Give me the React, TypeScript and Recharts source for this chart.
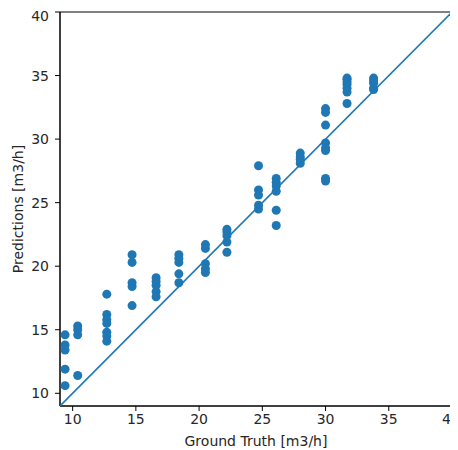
import React from 'react';
import {
  ScatterChart,
  Scatter,
  XAxis,
  YAxis,
  ReferenceArea,
} from 'recharts';

type Pt = { x: number, y: number };

// ground truth levels and the predictions made at each level
const truthLevels = [9.4, 10.4, 12.7, 14.7, 16.6, 18.4, 20.5, 22.2, 24.7, 26.1, 28.0, 30.0, 31.7, 33.8];
const predictions = [
  [14.6, 13.8, 13.4, 11.9, 10.6],
  [15.3, 15.0, 14.6, 11.4],
  [17.8, 16.2, 15.8, 15.5, 14.8, 14.5, 14.1],
  [20.9, 20.3, 18.7, 18.4, 16.9],
  [19.1, 18.8, 18.5, 18.0, 17.6],
  [20.9, 20.6, 20.3, 19.4, 18.7],
  [21.7, 21.4, 20.2, 19.8, 19.5],
  [22.9, 22.7, 22.4, 21.9, 21.1],
  [27.9, 26.0, 25.6, 24.8, 24.5],
  [26.9, 26.6, 26.3, 25.9, 24.4, 23.2],
  [28.9, 28.6, 28.4, 28.1],
  [32.4, 32.1, 31.1, 29.7, 29.3, 29.1, 26.9, 26.7],
  [34.8, 34.7, 34.5, 34.3, 34.0, 33.7, 32.8],
  [34.8, 34.6, 34.4, 34.0, 33.9],
];
const identity = [9, 40];
const ticks = [10, 15, 20, 25, 30, 35, 40];

const points: Pt[] = truthLevels.flatMap((gt, i) => predictions[i].map((p) => ({ x: gt, y: p })));
const lineData: Pt[] = identity.map((v) => ({ x: v, y: v }));

const BLUE = '#1f77b4';
const font = 'DejaVu Sans, sans-serif';
const tickStyle = { fontSize: 14, fill: '#262626', fontFamily: font };

const Dot = (props: any) => <circle cx={props.cx} cy={props.cy} r={4.5} fill={BLUE} />;

export default function App() {
  return (
    <div style={{ fontFamily: font }}>
      <ScatterChart width={450} height={442} margin={{ top: 4, right: 6, bottom: 0, left: 0 }}>
        <XAxis
          type="number"
          dataKey="x"
          domain={[9, 40]}
          ticks={ticks}
          allowDataOverflow
          tick={tickStyle}
          tickSize={5}
          tickMargin={3}
          stroke="#000"
          height={44}
          label={{ value: 'Ground Truth [m3/h]', position: 'insideBottom', offset: 4, style: { fontSize: 14, fill: '#262626', fontFamily: font } }}
        />
        <YAxis
          type="number"
          dataKey="y"
          domain={[9, 40]}
          ticks={ticks}
          allowDataOverflow
          tick={tickStyle}
          tickSize={5}
          tickMargin={6}
          stroke="#000"
          width={52}
          label={{ value: 'Predictions [m3/h]', angle: -90, position: 'insideLeft', offset: 10, style: { textAnchor: 'middle', fontSize: 14, fill: '#262626', fontFamily: font } }}
        />
        <ReferenceArea x1={9} x2={40} y1={9} y2={40} fill="none" stroke="#000" strokeWidth={1} />
        <Scatter data={points} shape={<Dot />} isAnimationActive={false} />
        <Scatter
          data={lineData}
          line={{ stroke: BLUE, strokeWidth: 1.6 }}
          shape={() => <g />}
          isAnimationActive={false}
        />
      </ScatterChart>
    </div>
  );
}
